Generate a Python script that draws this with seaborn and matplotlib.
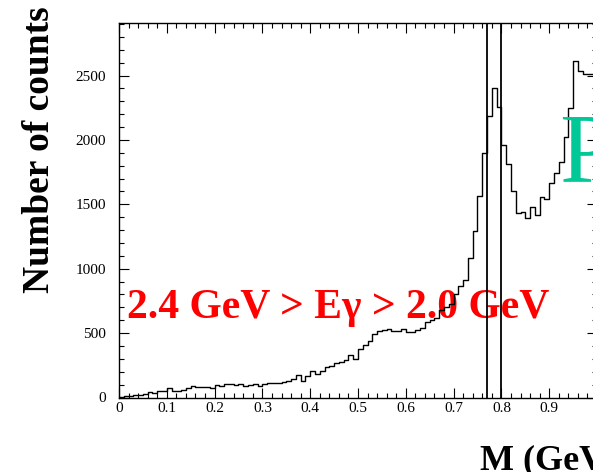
import numpy as np
import pandas as pd
import matplotlib
matplotlib.use("Agg")
import matplotlib.pyplot as plt
import seaborn as sns
from matplotlib.ticker import MultipleLocator, FuncFormatter

# Invariant-mass spectrum, 100 bins of 10 MeV from 0 to 1 GeV
bin_edges = [round(0.01 * i, 3) for i in range(101)]
counts = [
    5, 8, 15, 21, 21, 28, 41, 36, 47, 54,
    70, 54, 49, 59, 70, 88, 85, 85, 80, 70,
    95, 90, 101, 106, 95, 106, 90, 95, 101, 90,
    103, 111, 116, 116, 121, 127, 140, 173, 127, 168,
    202, 181, 202, 233, 245, 271, 276, 289, 328, 297,
    380, 411, 442, 494, 517, 525, 532, 517, 517, 532,
    506, 506, 527, 540, 589, 605, 615, 682, 700, 729,
    800, 863, 915, 1083, 1289, 1566, 1902, 2186, 2400, 2253,
    1961, 1811, 1600, 1432, 1442, 1393, 1483, 1419, 1556, 1545,
    1666, 1747, 1828, 2026, 2250, 2615, 2533, 2513, 2513, 2513,
]
# mass window around the omega peak
window = [0.77, 0.80]

energy_label = "2.4 GeV > Eγ > 2.0 GeV"
x_title = "M (GeV)"
y_title = "Number of counts"

sns.set_theme(style="ticks")
plt.rcParams["font.family"] = ["Liberation Serif", "DejaVu Serif"]
plt.rcParams.update({"text.color": "black", "axes.labelcolor": "black",
                     "xtick.color": "black", "ytick.color": "black"})

edges = np.array(bin_edges)
centers = 0.5 * (edges[:-1] + edges[1:])
df = pd.DataFrame({"mass": centers, "counts": counts})

W, H = 593, 472
fig = plt.figure(figsize=(W / 100, H / 100), dpi=100)
fig.patch.set_facecolor("white")
ax = fig.add_axes([119 / W, 1 - 397.5 / H, 478 / W, 374.5 / H])
ax.set_facecolor("white")

sns.histplot(data=df, x="mass", weights="counts", bins=bin_edges,
             element="step", fill=False, color="black", linewidth=1.0,
             ax=ax)

for xv in window:
    ax.axvline(xv, color="black", linewidth=1.3, zorder=4)

ax.set_xlim(0, 1.0)
ax.set_ylim(0, 2908)
ax.set_xlabel("")
ax.set_ylabel("")

ax.xaxis.set_major_locator(MultipleLocator(0.1))
ax.xaxis.set_minor_locator(MultipleLocator(0.02))
ax.yaxis.set_major_locator(MultipleLocator(500))
ax.yaxis.set_minor_locator(MultipleLocator(100))
ax.xaxis.set_major_formatter(FuncFormatter(lambda v, p: f"{v:g}" if v < 0.95 else ""))
ax.yaxis.set_major_formatter(FuncFormatter(lambda v, p: f"{v:g}"))

ax.tick_params(which="both", direction="in", top=True, right=True,
               colors="black", width=0.8, labelsize=11)
ax.tick_params(which="major", length=7)
ax.tick_params(which="minor", length=3.6)
ax.tick_params(axis="y", pad=9.4)
ax.tick_params(axis="x", pad=3.6)
for sp in ax.spines.values():
    sp.set_visible(True)
    sp.set_color("black")
    sp.set_linewidth(1.0)

ax.text(127 / W, 1 - 318 / H, energy_label, transform=fig.transFigure,
        fontsize=30, fontweight="bold", color="red",
        ha="left", va="baseline", zorder=1)
ax.text(559 / W, 1 - 181 / H, "P", transform=fig.transFigure,
        fontsize=72, color="#00c896", ha="left", va="baseline", zorder=5)

fig.text(40 / W, 1 - 150 / H, y_title, rotation=90, fontsize=27,
         fontweight="bold", ha="center", va="center", color="black")
fig.text(480 / W, 1 - 469 / H, x_title, fontsize=26, fontweight="bold",
         ha="left", va="baseline", color="black")

fig.savefig("out.png", dpi=100, facecolor="white")
